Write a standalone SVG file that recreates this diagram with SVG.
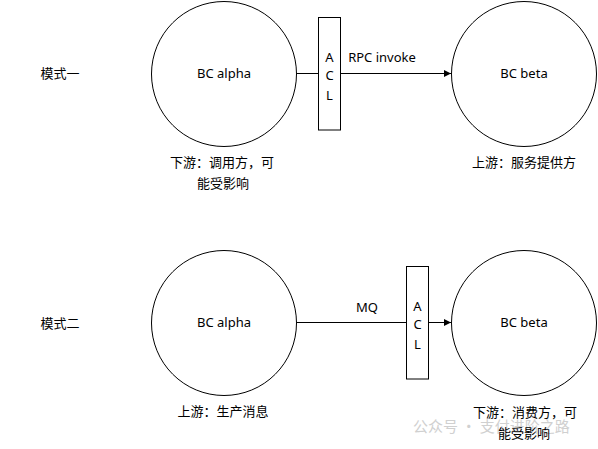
<svg xmlns="http://www.w3.org/2000/svg" width="598" height="449" viewBox="0 0 598 449">
<defs>
<style>
.n{fill:#fff;stroke:#000;stroke-width:1}
.t{font-family:"Noto Sans","Noto Sans CJK SC",sans-serif;font-size:13px;fill:#000;text-anchor:middle}
.c{stroke:#000;stroke-width:1;fill:none}
.w{font-family:"Noto Sans CJK SC",sans-serif;font-size:15px;fill:#d0d0d0}
</style>
<marker id="ah" markerWidth="8" markerHeight="8" refX="7" refY="4" orient="auto" markerUnits="userSpaceOnUse">
<path d="M0,0.5 L7,4 L0,7.5 z" fill="#000"/>
</marker>
</defs>
<rect width="598" height="449" fill="#fff"/>
<g id="connectors">
<line class="c" x1="296.5" y1="73.5" x2="318" y2="73.5"/>
<line class="c" x1="340" y1="73.5" x2="451" y2="73.5" marker-end="url(#ah)"/>
<line class="c" x1="296.5" y1="322.5" x2="406" y2="322.5"/>
<line class="c" x1="428" y1="322.5" x2="451" y2="322.5" marker-end="url(#ah)"/>
<text class="t" x="382" y="62">RPC invoke</text>
<text class="t" x="367" y="312">MQ</text>
</g>
<g id="label-mode1"><text class="t" x="60" y="78">模式一</text></g>
<g id="label-mode2"><text class="t" x="60" y="328">模式二</text></g>
<g id="alpha1">
<circle class="n" cx="224" cy="74" r="72.5"/>
<text class="t" x="224" y="78">BC alpha</text>
<text class="t" x="222" y="167">下游：调用方，可</text>
<text class="t" x="223" y="188">能受影响</text>
</g>
<g id="acl1">
<rect class="n" x="318.5" y="17.5" width="22" height="112.5"/>
<text class="t" x="329.5" y="62">A</text>
<text class="t" x="329.5" y="80">C</text>
<text class="t" x="329.5" y="100">L</text>
</g>
<g id="beta1">
<circle class="n" cx="524" cy="74" r="72.5"/>
<text class="t" x="524" y="78">BC beta</text>
<text class="t" x="524" y="167">上游：服务提供方</text>
</g>
<g id="alpha2">
<circle class="n" cx="224" cy="323" r="72.5"/>
<text class="t" x="224" y="327">BC alpha</text>
<text class="t" x="223" y="416">上游：生产消息</text>
</g>
<g id="acl2">
<rect class="n" x="406.5" y="266.5" width="22" height="112.5"/>
<text class="t" x="417.5" y="311">A</text>
<text class="t" x="417.5" y="329">C</text>
<text class="t" x="417.5" y="349">L</text>
</g>
<g id="beta2">
<circle class="n" cx="524" cy="323" r="72.5"/>
<text class="t" x="524" y="327">BC beta</text>
<text class="w" x="413" y="432">公众号 · 支付进阶之路</text>
<text class="t" x="525" y="417">下游：消费方，可</text>
<text class="t" x="524" y="438">能受影响</text>
</g>
</svg>
